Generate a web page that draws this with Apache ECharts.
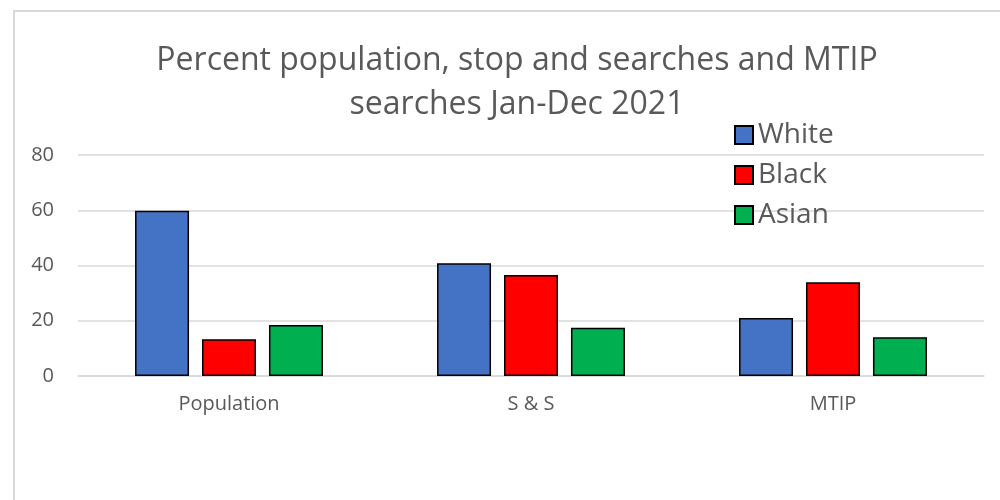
<!DOCTYPE html>
<html>
<head>
<meta charset="utf-8">
<script src="https://cdn.jsdelivr.net/npm/echarts@6/dist/echarts.min.js"></script>
<style>
  html, body { margin: 0; padding: 0; background: #fff; }
  #frame { position: absolute; left: 13px; top: 10px; width: 1000px; height: 500px; border: 2px solid #d9d9d9; box-sizing: border-box; }
  #chart { position: absolute; left: 0; top: 0; width: 1000px; height: 500px; }
</style>
</head>
<body>
<div id="frame"></div>
<div id="chart"></div>
<script>
const titleText = 'Percent population, stop and searches and MTIP\nsearches Jan-Dec 2021';
const categories = ['Population', 'S & S', 'MTIP'];
const seriesNames = ['White', 'Black', 'Asian'];
const whiteValues = [59.8, 40.8, 21.0];
const blackValues = [13.3, 36.6, 33.9];
const asianValues = [18.5, 17.5, 14.0];
const yTicks = [0, 20, 40, 60, 80];
const colors = ['#4472C4', '#FF0000', '#00B050'];

const FONT = 'Open Sans';
const textColor = '#595959';
const seriesValues = [whiteValues, blackValues, asianValues];

const chart = echarts.init(document.getElementById('chart'), null, { renderer: 'canvas' });
chart.setOption({
  backgroundColor: 'transparent',
  animation: false,
  title: {
    text: titleText,
    left: 512,
    textAlign: 'center',
    top: 34,
    textStyle: { fontFamily: FONT, fontSize: 32, fontWeight: 'normal', color: textColor, lineHeight: 44 }
  },
  legend: {
    orient: 'vertical',
    left: 729,
    top: 116,
    itemWidth: 18,
    itemHeight: 18,
    itemGap: 12,
    itemTextGap: 9,
    icon: 'rect',
    textStyle: { fontFamily: FONT, fontSize: 28, color: textColor, lineHeight: 28 },
    data: seriesNames
  },
  grid: { left: 78, right: 16, top: 155, bottom: 124, containLabel: false },
  xAxis: {
    type: 'category',
    data: categories,
    axisLine: { show: true, lineStyle: { color: '#d9d9d9', width: 1.5 } },
    axisTick: { show: false },
    axisLabel: { fontFamily: FONT, fontSize: 20, color: textColor, margin: 18 }
  },
  yAxis: {
    type: 'value',
    min: yTicks[0],
    max: yTicks[yTicks.length - 1],
    interval: yTicks[1] - yTicks[0],
    axisLine: { show: false },
    axisTick: { show: false },
    splitLine: { lineStyle: { color: '#d9d9d9', width: 1.5 } },
    axisLabel: { fontFamily: FONT, fontSize: 20, color: textColor, margin: 24 }
  },
  series: seriesNames.map((name, i) => ({
    name: name,
    type: 'bar',
    data: seriesValues[i],
    barWidth: 54,
    barGap: '24%',
    itemStyle: { color: colors[i], borderColor: '#000', borderWidth: 1.5 }
  }))
});
</script>
</body>
</html>
